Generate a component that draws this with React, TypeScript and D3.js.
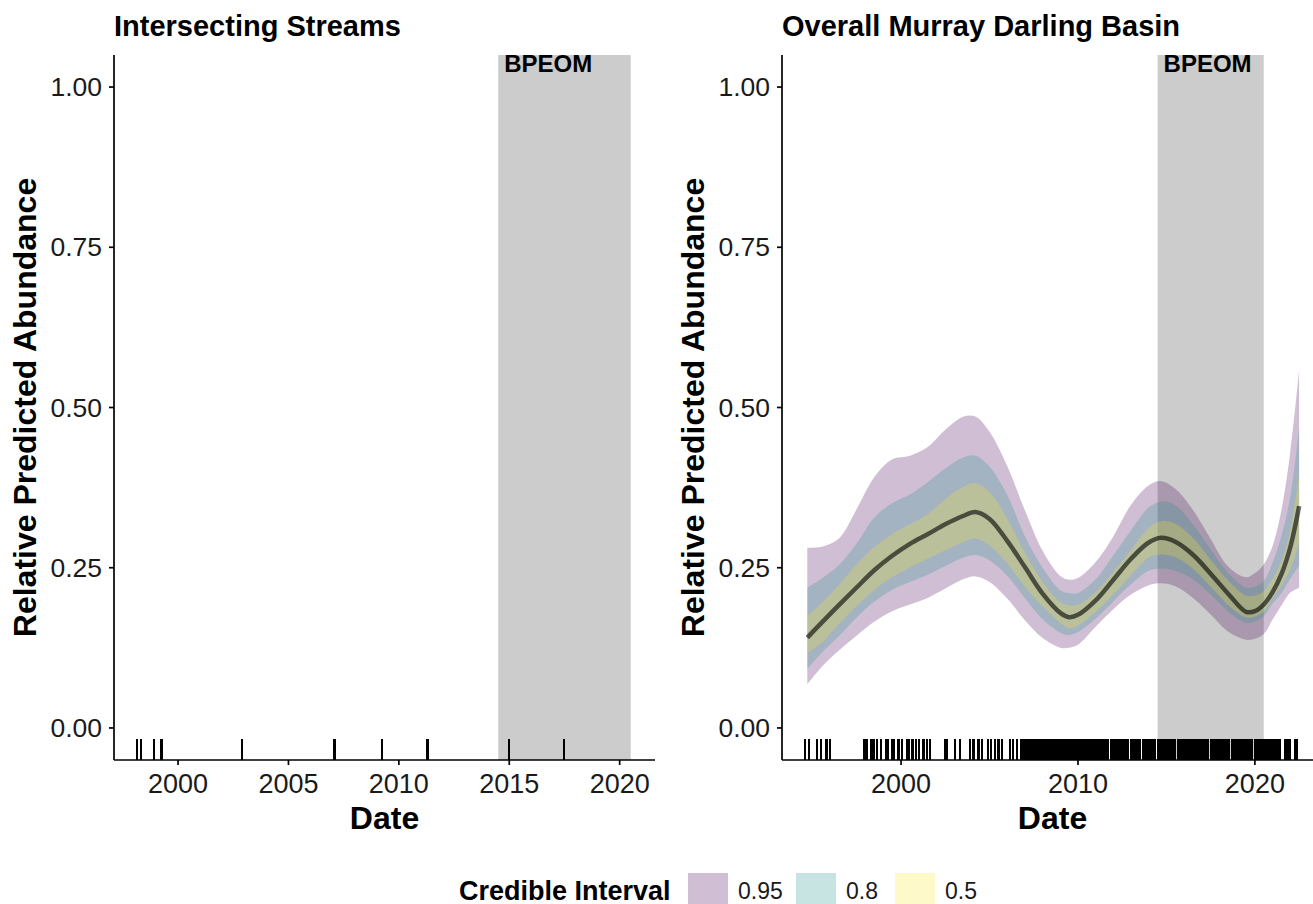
import React from "react";
import * as d3 from "d3";

// ---------- data ----------
const yTicks = [0, 0.25, 0.5, 0.75, 1];
const leftXTicks = [2000, 2005, 2010, 2015, 2020];
const rightXTicks = [2000, 2010, 2020];
const bpeomStart = 2014.5;
const bpeomEnd = 2020.5;

const leftRugYears = [1998.15, 1998.31, 1998.91, 1999.25, 2002.89, 2007.08, 2009.23, 2011.3, 2014.99, 2017.47];

const rightRugYears = [
  1994.58, 1994.8, 1995.24, 1995.47, 1995.79, 1995.99,
  1997.93, 1998.06, 1998.31, 1998.44, 1998.63, 1998.87, 1999.13, 1999.28, 1999.47, 1999.62, 1999.85,
  2000.07, 2000.32, 2000.45, 2000.64, 2000.83, 2001.02, 2001.26, 2001.45, 2001.64,
  2002.5, 2002.6, 2003.05, 2003.33,
  2003.9, 2004.09, 2004.37, 2004.56, 2004.93, 2005.08, 2005.31, 2005.5, 2005.72, 2006.16, 2006.34, 2006.54,
  2006.8, 2006.9, 2007.0, 2007.1, 2007.2, 2007.3, 2007.4, 2007.5, 2007.6, 2007.7, 2007.8, 2007.9,
  2008.0, 2008.1, 2008.2, 2008.3, 2008.4, 2008.5, 2008.6, 2008.7, 2008.8, 2008.9,
  2009.0, 2009.1, 2009.2, 2009.3, 2009.4, 2009.5, 2009.6, 2009.7, 2009.8, 2009.9,
  2010.0, 2010.1, 2010.2, 2010.3, 2010.4, 2010.5, 2010.6, 2010.7, 2010.8, 2010.9,
  2011.0, 2011.1, 2011.2, 2011.3, 2011.4, 2011.5, 2011.6, 2011.7,
  2011.9, 2012.0, 2012.1, 2012.2, 2012.3, 2012.4, 2012.5, 2012.6, 2012.7, 2012.8,
  2013.0, 2013.1, 2013.2, 2013.3, 2013.4, 2013.5,
  2013.7, 2013.8, 2013.9,
  2014.05, 2014.15, 2014.25, 2014.35,
  2014.55, 2014.65, 2014.75, 2014.85, 2014.95, 2015.05, 2015.15, 2015.25, 2015.35, 2015.45,
  2015.65, 2015.75, 2015.85, 2015.95, 2016.05, 2016.15, 2016.25, 2016.35, 2016.45, 2016.55,
  2016.65, 2016.75, 2016.85, 2016.95, 2017.05, 2017.15, 2017.25, 2017.35,
  2017.5, 2017.6, 2017.7, 2017.8, 2017.9, 2018.0, 2018.1, 2018.2, 2018.3, 2018.4, 2018.5,
  2018.7, 2018.8, 2018.9, 2019.0, 2019.1, 2019.2, 2019.3, 2019.4, 2019.5, 2019.6, 2019.7, 2019.8,
  2020.0, 2020.1, 2020.2, 2020.3, 2020.4, 2020.5, 2020.6, 2020.7, 2020.8, 2020.9,
  2021.0, 2021.1, 2021.2, 2021.3, 2021.4,
  2021.7, 2021.8, 2021.9, 2022.0,
  2022.3, 2022.4,
];

const fitYears = [
  1994.7, 1995.5, 1996.5, 1997.5, 1998.5, 1999.5, 2000.5, 2001.5, 2002.5, 2003.5, 2004.2, 2005,
  2006, 2007, 2008, 2009, 2009.5, 2010, 2011, 2012, 2013, 2014, 2014.7, 2015.5, 2016.5, 2017.5,
  2018.5, 2019.5, 2020, 2020.5, 2021, 2021.5, 2022, 2022.5,
];
const fitMean = [
  0.141, 0.164, 0.192, 0.2195, 0.2464, 0.2686, 0.2873, 0.3023, 0.3178, 0.3307, 0.337, 0.3261,
  0.2919, 0.251, 0.2096, 0.1796, 0.1729, 0.1765, 0.199, 0.2313, 0.264, 0.2893, 0.2966, 0.2904,
  0.2702, 0.2407, 0.2091, 0.1812, 0.1822, 0.1926, 0.212, 0.24, 0.282, 0.346,
];
const lo50 = [
  0.117, 0.1325, 0.1625, 0.191, 0.2158, 0.2355, 0.2505, 0.264, 0.2774, 0.2899, 0.2955, 0.2847,
  0.2567, 0.2205, 0.1894, 0.1641, 0.1553, 0.1599, 0.1815, 0.2085, 0.2386, 0.266, 0.2707, 0.2666,
  0.2484, 0.2205, 0.1915, 0.1724, 0.1739, 0.1817, 0.203, 0.222, 0.248, 0.2899,
];
const hi50 = [
  0.175, 0.1951, 0.2236, 0.2557, 0.2826, 0.3028, 0.3178, 0.3333, 0.3571, 0.3763, 0.382, 0.368,
  0.3266, 0.2733, 0.2283, 0.1967, 0.1915, 0.192, 0.212, 0.2435, 0.278, 0.3121, 0.3225, 0.3188,
  0.2966, 0.2624, 0.2298, 0.2065, 0.2065, 0.2133, 0.233, 0.26, 0.31, 0.3949,
];
const lo80 = [
  0.092, 0.117, 0.1434, 0.1729, 0.1972, 0.2158, 0.2277, 0.2391, 0.2526, 0.2655, 0.2697, 0.2614,
  0.2376, 0.2024, 0.1698, 0.1486, 0.1449, 0.1496, 0.1705, 0.1975, 0.2241, 0.2453, 0.2484, 0.2453,
  0.2319, 0.2081, 0.1812, 0.1641, 0.1662, 0.1744, 0.194, 0.21, 0.233, 0.2531,
];
const hi80 = [
  0.219, 0.2329, 0.2547, 0.2883, 0.3287, 0.3509, 0.3644, 0.3835, 0.4048, 0.4218, 0.4249, 0.4079,
  0.3634, 0.2992, 0.25, 0.2148, 0.2101, 0.2107, 0.232, 0.2695, 0.3085, 0.3442, 0.3535, 0.3473,
  0.3178, 0.279, 0.2417, 0.2189, 0.2205, 0.2293, 0.258, 0.3, 0.36, 0.4684,
];
const lo95 = [
  0.068, 0.0947, 0.1211, 0.1444, 0.1662, 0.1822, 0.1925, 0.2029, 0.2174, 0.2319, 0.2365, 0.2277,
  0.2019, 0.1682, 0.1403, 0.1253, 0.1253, 0.1299, 0.1579, 0.1853, 0.2081, 0.2226, 0.2257, 0.221,
  0.2029, 0.177, 0.1501, 0.1377, 0.1392, 0.1465, 0.1693, 0.191, 0.2112, 0.2189,
];
const hi95 = [
  0.2811, 0.2826, 0.2961, 0.3421, 0.3918, 0.4193, 0.4249, 0.4384, 0.4653, 0.4855, 0.486, 0.4622,
  0.4089, 0.3395, 0.2764, 0.2371, 0.2314, 0.234, 0.2588, 0.2992, 0.3483, 0.3784, 0.3851, 0.3732,
  0.3401, 0.295, 0.2516, 0.235, 0.2417, 0.2552, 0.284, 0.34, 0.43, 0.558,
];

const ciLabels = ["0.95", "0.8", "0.5"];
const ciColors = ["#440154", "#21908C", "#FDE725"];

// ---------- layout ----------
const W = 1313;
const H = 904;
const top = 55;
const bottom = 760;
const FONT = "'Liberation Sans', Arial, Helvetica, sans-serif";

const yScale = d3.scaleLinear().domain([-0.05, 1.05]).range([bottom, top]);
const xLeft = d3.scaleLinear().domain([1997.1, 2021.6]).range([114, 655]);
const xRight = d3.scaleLinear().domain([1993.27, 2023.85]).range([782, 1323]);

type Band = { lo: number[]; hi: number[]; color: string };
const bands: Band[] = [
  { lo: lo95, hi: hi95, color: ciColors[0] },
  { lo: lo80, hi: hi80, color: ciColors[1] },
  { lo: lo50, hi: hi50, color: ciColors[2] },
];

function Panel({
  x,
  title,
  ticks,
  rug,
  withFit,
}: {
  x: d3.ScaleLinear<number, number>;
  title: string;
  ticks: number[];
  rug: number[];
  withFit: boolean;
}) {
  const [x0, x1] = x.range();
  const idx = fitYears.map((_, i) => i);
  const curve = d3.curveCatmullRom.alpha(0.5);
  const area = (b: Band) =>
    d3
      .area<number>()
      .x((i) => x(fitYears[i]))
      .y0((i) => yScale(b.lo[i]))
      .y1((i) => yScale(b.hi[i]))
      .curve(curve)(idx) || "";
  const line =
    d3
      .line<number>()
      .x((i) => x(fitYears[i]))
      .y((i) => yScale(fitMean[i]))
      .curve(curve)(idx) || "";
  const cx = (x0 + x1) / 2;
  const rugLen = (bottom - top) * 0.03;
  return (
    <g>
      <text x={x0} y={36} fontFamily={FONT} fontWeight="bold" fontSize={29} fill="#000">
        {title}
      </text>
      <rect
        x={x(bpeomStart)}
        y={top}
        width={x(bpeomEnd) - x(bpeomStart)}
        height={bottom - top}
        fill="#cccccc"
      />
      {withFit &&
        bands.map((b, i) => <path key={i} d={area(b)} fill={b.color} fillOpacity={0.25} />)}
      {withFit && <path d={line} fill="none" stroke="#000" strokeOpacity={0.6} strokeWidth={4.5} />}
      <text
        x={x(bpeomStart) + 6}
        y={72}
        fontFamily={FONT}
        fontWeight="bold"
        fontSize={24}
        fill="#000"
      >
        BPEOM
      </text>
      <g shapeRendering="crispEdges">
        {rug.map((r, i) => (
          <line
            key={i}
            x1={x(r)}
            x2={x(r)}
            y1={bottom}
            y2={bottom - rugLen}
            stroke="#000"
            strokeWidth={2.3}
          />
        ))}
      </g>
      {/* y axis */}
      <line x1={x0} x2={x0} y1={top} y2={bottom} stroke="#000" strokeWidth={1.7} />
      {yTicks.map((t) => (
        <g key={t}>
          <line x1={x0 - 5} x2={x0} y1={yScale(t)} y2={yScale(t)} stroke="#000" strokeWidth={1.7} />
          <text
            x={x0 - 12}
            y={yScale(t)}
            textAnchor="end"
            dominantBaseline="central"
            fontFamily={FONT}
            fontSize={26.5}
            fill="#1a1a1a"
          >
            {d3.format(".2f")(t)}
          </text>
        </g>
      ))}
      {/* x axis */}
      <line x1={x0} x2={x1} y1={bottom} y2={bottom} stroke="#000" strokeWidth={1.7} />
      {ticks.map((t) => (
        <g key={t}>
          <line x1={x(t)} x2={x(t)} y1={bottom} y2={bottom + 5} stroke="#000" strokeWidth={1.7} />
          <text
            x={x(t)}
            y={793}
            textAnchor="middle"
            fontFamily={FONT}
            fontSize={27}
            fill="#1a1a1a"
          >
            {t}
          </text>
        </g>
      ))}
      <text
        x={cx}
        y={829}
        textAnchor="middle"
        fontFamily={FONT}
        fontWeight="bold"
        fontSize={32}
        fill="#000"
      >
        Date
      </text>
      <text
        transform={`translate(${x0 - 78},${(top + bottom) / 2}) rotate(-90)`}
        textAnchor="middle"
        fontFamily={FONT}
        fontWeight="bold"
        fontSize={32}
        fill="#000"
      >
        Relative Predicted Abundance
      </text>
    </g>
  );
}

export default function App() {
  const keyX = [688, 796, 895];
  return (
    <svg
      width={W}
      height={H}
      style={{ position: "absolute", left: 0, top: 0, background: "#fff" }}
    >
      <rect x={0} y={0} width={W} height={H} fill="#fff" />
      <Panel x={xLeft} title="Intersecting Streams" ticks={leftXTicks} rug={leftRugYears} withFit={false} />
      <Panel x={xRight} title="Overall Murray Darling Basin" ticks={rightXTicks} rug={rightRugYears} withFit={true} />
      {/* legend */}
      <text x={459} y={900} fontFamily={FONT} fontWeight="bold" fontSize={27} fill="#000">
        Credible Interval
      </text>
      {ciLabels.map((lab, i) => (
        <g key={lab}>
          <rect x={keyX[i]} y={873} width={40} height={40} fill={ciColors[i]} fillOpacity={0.25} />
          <text x={keyX[i] + 50} y={899} fontFamily={FONT} fontSize={23} fill="#1a1a1a">
            {lab}
          </text>
        </g>
      ))}
    </svg>
  );
}
